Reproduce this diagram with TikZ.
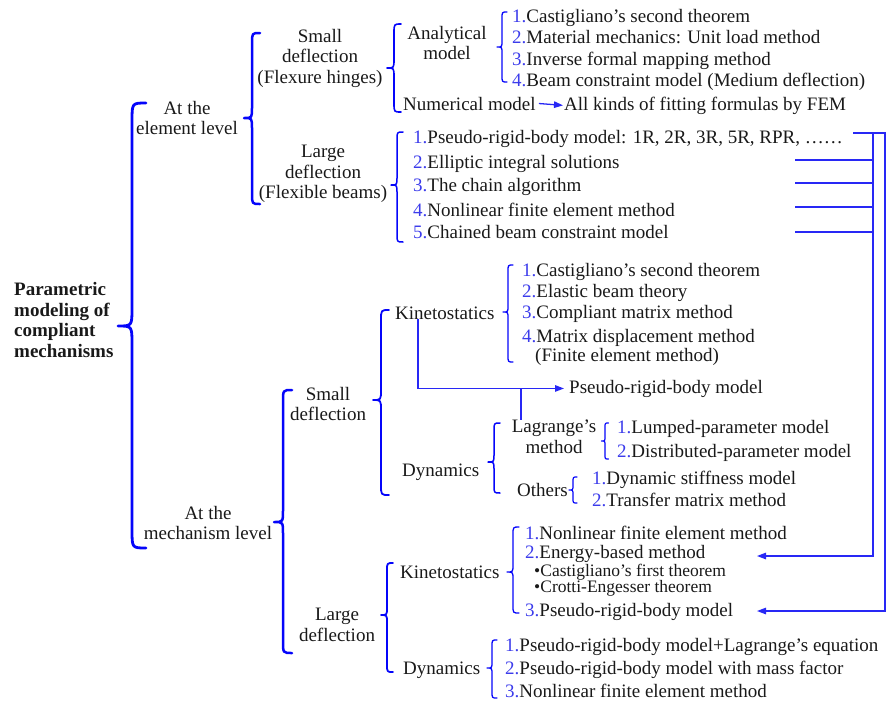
\documentclass[tikz,border=0pt]{standalone}
\usepackage{fontspec}
\setmainfont{Liberation Serif}
\usetikzlibrary{arrows.meta}
\definecolor{bblue}{RGB}{5,5,250}
\definecolor{lblue}{RGB}{40,40,245}
\definecolor{numblue}{RGB}{60,60,235}
\definecolor{ink}{RGB}{25,25,25}
\newcommand{\nm}[1]{\textcolor{numblue}{#1}}
% left curly brace: [opts]{x}{top}{tip}{bottom}{half width}
\newcommand{\mybrace}[6][]{%
  \draw[brc,#1] ({#2+#6},#3) .. controls (#2,#3) .. (#2,{#3+#6*1.3})
    -- (#2,{#4-#6*1.3}) .. controls (#2,#4) .. ({#2-#6},#4)
    .. controls (#2,#4) .. (#2,{#4+#6*1.3})
    -- (#2,{#5-#6*1.3}) .. controls (#2,#5) .. ({#2+#6},#5);}
\begin{document}
\begin{tikzpicture}[x=1pt,y=-1pt,
  txt/.style={font=\fontsize{19}{20.5}\selectfont, inner sep=0pt, text=ink},
  item/.style={txt, anchor=base west},
  mtxt/.style={txt, align=center, anchor=center},
  small/.style={item, font=\fontsize{17.5}{18}\selectfont},
  brc/.style={draw=bblue, line width=1.4pt, line cap=round, line join=round},
  link/.style={draw=lblue, line width=1.3pt},
  arr/.style={link, -{Triangle[length=9pt,width=6.5pt]}}]
\useasboundingbox (0,0) rectangle (886,702);

% ---------- root ----------
\node[txt, align=left, anchor=west, font=\fontsize{19}{20.5}\selectfont\bfseries] (root) at (14,320)
  {Parametric\\modeling of\\compliant\\mechanisms};
\mybrace[line width=2.8pt]{132}{103}{326}{548}{14}

% ---------- element level ----------
\node[mtxt] (elem) at (187,118) {At the\\element level};
\mybrace[line width=2.5pt]{252}{33}{118}{204}{8}

\node[mtxt] (sd1) at (320,58) {Small\\deflection\\(Flexure hinges)};
\mybrace[line width=1.6pt]{394}{24}{68}{112}{7}

\node[mtxt] (anal) at (447,43) {Analytical\\model};
\mybrace[line width=1.3pt]{502}{12}{47}{82}{5}
\node[item] (a1) at (512,22) {\nm{1.}Castigliano's second theorem};
\node[item] (a2) at (512,43) {\nm{2.}Material mechanics: Unit load method};
\node[item] (a3) at (512,65) {\nm{3.}Inverse formal mapping method};
\node[item] (a4) at (512,86) {\nm{4.}Beam constraint model (Medium deflection)};

\node[item] (numer) at (403,110) {Numerical model};
\node[item] (fem) at (564,110) {All kinds of fitting formulas by FEM};
\draw[arr] ([xshift=3pt]numer.east) -- ([xshift=-1pt]fem.west);

\node[mtxt] (ld1) at (323,174) {Large\\deflection\\(Flexible beams)};
\mybrace[line width=1.5pt]{397}{132}{185}{242}{6}
\node[item] (l1) at (413,143) {\nm{1.}Pseudo-rigid-body model: 1R, 2R, 3R, 5R, RPR, ……};
\node[item] (l2) at (413,168) {\nm{2.}Elliptic integral solutions};
\node[item] (l3) at (413,191) {\nm{3.}The chain algorithm};
\node[item] (l4) at (413,216) {\nm{4.}Nonlinear finite element method};
\node[item] (l5) at (413,238) {\nm{5.}Chained beam constraint model};

% ---------- mechanism level ----------
\node[mtxt] (mech) at (208,523) {At the\\mechanism level};
\mybrace[line width=2.5pt]{283}{390}{522}{653}{9}

\node[mtxt] (sd2) at (328,404) {Small\\deflection};
\mybrace[line width=1.8pt]{381}{310}{400}{495}{8}

\node[item] (kin1) at (395,319) {Kinetostatics};
\mybrace[line width=1.3pt]{508}{265}{312}{362}{5}
\node[item] (k1) at (522,276) {\nm{1.}Castigliano's second theorem};
\node[item] (k2) at (522,297) {\nm{2.}Elastic beam theory};
\node[item] (k3) at (522,318) {\nm{3.}Compliant matrix method};
\node[item] (k4) at (522,342) {\nm{4.}Matrix displacement method};
\node[item] (k4b) at (535,361) {(Finite element method)};

\node[item] (prb) at (569,393) {Pseudo-rigid-body model};
\draw[arr, shorten >=5pt] ([xshift=23pt]kin1.south west) |- (prb.west);

\node[item] (dyn1) at (402,476) {Dynamics};
\mybrace[line width=1.5pt]{494}{423}{462}{493}{6}
\node[mtxt] (lag) at (554,437) {Lagrange's\\method};
\coordinate (j1) at (521,388.6);
\draw[link] (j1) -- (j1 |- lag.north);
\mybrace[line width=1.2pt]{605}{423}{441}{459}{3.5}
\node[item] (lg1) at (617,433) {\nm{1.}Lumped-parameter model};
\node[item] (lg2) at (617,457) {\nm{2.}Distributed-parameter model};
\node[item] (oth) at (517,496) {Others};
\mybrace[line width=1.2pt]{573}{477}{490}{503}{4}
\node[item] (o1) at (592,484) {\nm{1.}Dynamic stiffness model};
\node[item] (o2) at (592,506) {\nm{2.}Transfer matrix method};

\node[mtxt] (ld2) at (337,625) {Large\\deflection};
\mybrace[line width=1.8pt]{387}{563}{615}{672}{6}

\node[item] (kin2) at (400,578) {Kinetostatics};
\mybrace[line width=1.3pt]{513}{527}{572}{613}{6}
\node[item] (m1) at (525,539) {\nm{1.}Nonlinear finite element method};
\node[item] (m2) at (525,558) {\nm{2.}Energy-based method};
\node[small] (b1) at (534,576) {•Castigliano's first theorem};
\node[small] (b2) at (534,592) {•Crotti-Engesser theorem};
\node[item] (m3) at (525,616) {\nm{3.}Pseudo-rigid-body model};

\node[item] (dyn2) at (403,674) {Dynamics};
\mybrace[line width=1.3pt]{492}{640}{668}{698}{5}
\node[item] (d1) at (505,651) {\nm{1.}Pseudo-rigid-body model+Lagrange's equation};
\node[item] (d2) at (505,674) {\nm{2.}Pseudo-rigid-body model with mass factor};
\node[item] (d3) at (505,697) {\nm{3.}Nonlinear finite element method};

% ---------- right-hand connectors ----------
\coordinate (e1) at (853,133);
\coordinate (c1) at (885,133);
\coordinate (c2) at (873,133);
\coordinate (t2) at (757,556);
\coordinate (t3) at (757,611);
\coordinate (e2) at (795,160);
\coordinate (e3) at (795,183);
\coordinate (e4) at (795,207);
\coordinate (e5) at (795,232);
\draw[arr] (e1) -- (c1) |- (t3);
\draw[arr] (c2) |- (t2);
\foreach \e in {e2,e3,e4,e5} \draw[link] (\e) -- (\e -| c2);
\end{tikzpicture}
\end{document}
